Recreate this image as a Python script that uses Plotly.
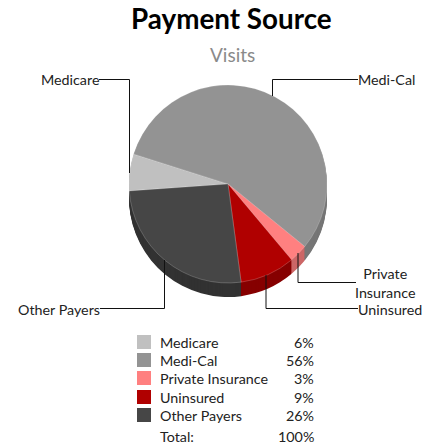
import plotly.graph_objects as go

W, H = 433, 447
categories = ["Medicare", "Medi-Cal", "Private Insurance", "Uninsured", "Other Payers"]
values = [6, 56, 3, 9, 26]
percent_labels = ["6%", "56%", "3%", "9%", "26%"]
top_colors = ["#c0c0c0", "#939393", "#ff8080", "#b00000", "#464646"]
side_colors = ["#8e8e8e", "#767676", "#cc6666", "#860000", "#323232"]
total_label = "Total:"
total_value = "100%"
FONT = "Lato, 'Open Sans', sans-serif"
TEXT = "#222222"

cx, cy, r, depth = 228, 184, 99, 14


def px(x):
    return x / W


def py(y):
    return 1 - y / H


fig = go.Figure()
for d in list(range(depth, 0, -1)) + [0]:
    top = d == 0
    fig.add_trace(go.Pie(
        labels=categories, values=values, sort=False, direction="clockwise", rotation=266,
        marker=dict(colors=top_colors if top else side_colors,
                    line=dict(color="rgba(255,255,255,0.25)" if top else "rgba(0,0,0,0)", width=0.8 if top else 0)),
        textinfo="none", hoverinfo="label+percent", showlegend=False,
        domain=dict(x=[px(cx - r), px(cx + r)], y=[py(cy + d + r), py(cy + d - r)]),
    ))

leaders = [
    [(99, 79.5), (129.5, 79.5), (129.5, 173)],
    [(358, 79.5), (272.5, 79.5), (272.5, 96)],
    [(356, 282.5), (298, 282.5), (298, 253)],
    [(358, 308.5), (266, 308.5), (266, 275)],
    [(100, 308.5), (164.5, 308.5), (164.5, 260)],
]
shapes = []
for pts in leaders:
    path = "M" + " L".join(f"{px(x)},{py(y)}" for x, y in pts)
    shapes.append(dict(type="path", xref="paper", yref="paper", path=path,
                       line=dict(color="#111111", width=1)))

annotations = []


def text(x, y, s, size=14.3, anchor="left", color=TEXT):
    annotations.append(dict(x=px(x), y=py(y), xref="paper", yref="paper", text=s, showarrow=False,
                            xanchor=anchor, yanchor="middle", align="center",
                            font=dict(family=FONT, size=size, color=color)))


text(231, 19, "<b>Payment Source</b>", 27.8, "center", "#000000")
text(232, 54, "Visits", 19, "center", "#8a8a8a")
text(101, 79, "Medicare", anchor="right")
text(356, 79, "Medi-Cal")
text(385, 283, "Private<br>Insurance", anchor="center")
text(356, 309, "Uninsured")
text(102, 309, "Other Payers", anchor="right")

rows_y = [342, 360, 378, 397, 415]
for name, label, colour, y in zip(categories, percent_labels, top_colors, rows_y):
    shapes.append(dict(type="rect", xref="paper", yref="paper", x0=px(137), x1=px(151),
                       y0=py(y + 7), y1=py(y - 7), fillcolor=colour, line=dict(width=0)))
    text(158, y, name)
    text(316, y, label, anchor="right")
text(158, 436, total_label)
text(316, 436, total_value, anchor="right")

fig.update_layout(width=W, height=H, margin=dict(l=0, r=0, t=0, b=0), paper_bgcolor="white",
                  shapes=shapes, annotations=annotations)
fig.write_html("out.html", config=dict(displayModeBar=False),
               post_script="document.body.style.margin='0';document.documentElement.style.overflow='hidden';")
